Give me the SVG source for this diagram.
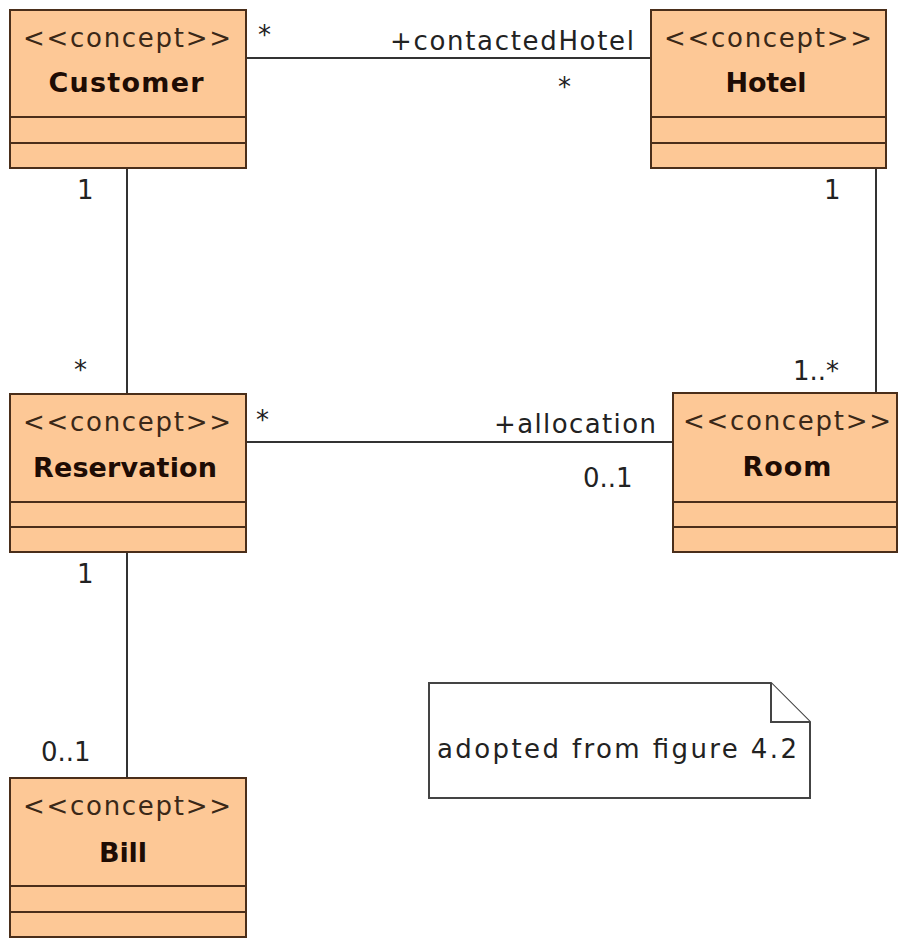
<svg xmlns="http://www.w3.org/2000/svg" width="898" height="939" viewBox="0 0 898 939">
<style>
.box{fill:#fdc896;stroke:#4a2e1a;stroke-width:2}
.sep{stroke:#4a2e1a;stroke-width:2}
.st{font-family:"DejaVu Sans",sans-serif;font-size:26px;fill:#3a2818;text-anchor:middle}
.nm{font-family:"DejaVu Sans",sans-serif;font-size:27px;font-weight:bold;fill:#1e0c04;text-anchor:middle}
.ln{stroke:#333;stroke-width:2;fill:none}
.lb{font-family:"DejaVu Sans",sans-serif;font-size:26px;fill:#222}
.note{fill:#fff;stroke:#444;stroke-width:2}
</style>
<rect width="898" height="939" fill="#fff"/>
<g id="connectors">
<line class="ln" x1="246" y1="58" x2="651" y2="58"/>
<line class="ln" x1="127" y1="168" x2="127" y2="394"/>
<line class="ln" x1="876" y1="168" x2="876" y2="393"/>
<line class="ln" x1="246" y1="442" x2="673" y2="442"/>
<line class="ln" x1="127" y1="552" x2="127" y2="778"/>
<text class="lb" x="258" y="44">*</text>
<text class="lb" x="634" y="50" text-anchor="end" textLength="244">+contactedHotel</text>
<text class="lb" x="558" y="96">*</text>
<text class="lb" x="77" y="199">1</text>
<text class="lb" x="824" y="199">1</text>
<text class="lb" x="74" y="379">*</text>
<text class="lb" x="793" y="380">1..*</text>
<text class="lb" x="256" y="429">*</text>
<text class="lb" x="656" y="433" text-anchor="end" textLength="162">+allocation</text>
<text class="lb" x="583" y="487">0..1</text>
<text class="lb" x="77" y="583">1</text>
<text class="lb" x="41" y="761">0..1</text>
</g>
<g id="customer">
<rect class="box" x="10" y="10" width="236" height="158"/>
<line class="sep" x1="10" y1="117" x2="246" y2="117"/>
<line class="sep" x1="10" y1="143" x2="246" y2="143"/>
<text class="st" x="127" y="47" textLength="208">&lt;&lt;concept&gt;&gt;</text>
<text class="nm" x="126" y="92" textLength="155">Customer</text>
</g>
<g id="hotel">
<rect class="box" x="651" y="10" width="235" height="158"/>
<line class="sep" x1="651" y1="117" x2="886" y2="117"/>
<line class="sep" x1="651" y1="143" x2="886" y2="143"/>
<text class="st" x="768" y="47" textLength="208">&lt;&lt;concept&gt;&gt;</text>
<text class="nm" x="766" y="92" textLength="81">Hotel</text>
</g>
<g id="reservation">
<rect class="box" x="10" y="394" width="236" height="158"/>
<line class="sep" x1="10" y1="502" x2="246" y2="502"/>
<line class="sep" x1="10" y1="527" x2="246" y2="527"/>
<text class="st" x="127" y="431" textLength="208">&lt;&lt;concept&gt;&gt;</text>
<text class="nm" x="125" y="477" textLength="184">Reservation</text>
</g>
<g id="room">
<rect class="box" x="673" y="393" width="224" height="159"/>
<line class="sep" x1="673" y1="502" x2="897" y2="502"/>
<line class="sep" x1="673" y1="527" x2="897" y2="527"/>
<text class="st" x="787" y="430" textLength="208">&lt;&lt;concept&gt;&gt;</text>
<text class="nm" x="787" y="476" textLength="89">Room</text>
</g>
<g id="bill">
<rect class="box" x="10" y="778" width="236" height="159"/>
<line class="sep" x1="10" y1="886" x2="246" y2="886"/>
<line class="sep" x1="10" y1="912" x2="246" y2="912"/>
<text class="st" x="127" y="815" textLength="208">&lt;&lt;concept&gt;&gt;</text>
<text class="nm" x="123" y="862" textLength="48">Bill</text>
</g>
<g id="note">
<path class="note" d="M429,683 H771 L810,722 V798 H429 Z"/>
<path class="note" d="M771,683 V722 H810" fill="none"/>
<text class="lb" x="437" y="758" textLength="360">adopted from figure 4.2</text>
</g>
</svg>
